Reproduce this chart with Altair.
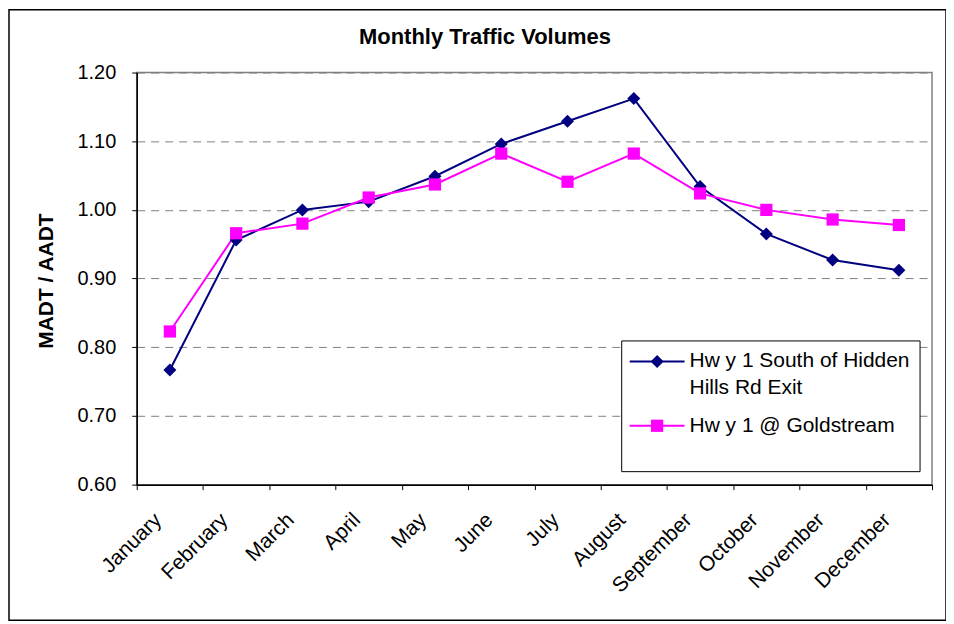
import altair as alt
import pandas as pd

months = ["January", "February", "March", "April", "May", "June", "July",
          "August", "September", "October", "November", "December"]
south = [0.767, 0.956, 1.000, 1.012, 1.049, 1.096, 1.129, 1.162, 1.034, 0.965, 0.927, 0.912]
gold = [0.823, 0.966, 0.980, 1.018, 1.037, 1.082, 1.041, 1.082, 1.024, 1.000, 0.986, 0.978]
series_names = ["Hw y 1 South of Hidden Hills Rd Exit", "Hw y 1 @ Goldstream"]
legend_lines = [["Hw y 1 South of Hidden", "Hills Rd Exit"], ["Hw y 1 @ Goldstream"]]
series_colors = ["#000080", "#FF00FF"]
series_shapes = ["diamond", "square"]
y_ticks = [0.6, 0.7, 0.8, 0.9, 1.0, 1.1, 1.2]
chart_title = "Monthly Traffic Volumes"
y_title = "MADT / AADT"

FONT = "Liberation Sans"
W, H = 797, 413

df = pd.DataFrame({
    "month": months * 2,
    "value": south + gold,
    "series": [series_names[0]] * 12 + [series_names[1]] * 12,
    "order": list(range(12)) * 2,
})
one = pd.DataFrame({"k": [0]})

x_enc = alt.X(
    "month:N", sort=months,
    scale=alt.Scale(type="band", paddingInner=0, paddingOuter=0),
    axis=alt.Axis(title=None, labelAngle=315, labelAlign="right", labelBaseline="middle",
                  labelOffset=-12, labelPadding=27, tickBand="extent", tickSize=5,
                  grid=False, domainColor="black", tickColor="black", domainWidth=1.5,
                  labelFont=FONT, labelFontSize=21, labelColor="black"),
)
y_enc = alt.Y(
    "value:Q",
    scale=alt.Scale(domain=[0.6, 1.2], nice=False, zero=False),
    axis=alt.Axis(values=y_ticks, format=".2f", title=y_title, titleX=-90, titleY=H / 2 + 2,
                  titleAngle=270, titleAlign="center", titleBaseline="middle",
                  titleFont=FONT, titleFontSize=21, titleFontWeight="bold", titleColor="black",
                  labelFont=FONT, labelFontSize=20, labelColor="black", labelPadding=16,
                  tickSize=5, tickColor="black", domainColor="black", domainWidth=1.5,
                  grid=True, gridColor="#808080", gridDash=[8, 6], gridWidth=1),
)
color_enc = alt.Color("series:N", scale=alt.Scale(domain=series_names, range=series_colors), legend=None)

frame = alt.Chart(one).mark_rect(fill=None, stroke="black", strokeWidth=1.5).encode(
    x=alt.value(-128), x2=alt.value(811), y=alt.value(-63), y2=alt.value(549))

title = alt.Chart(one).mark_text(
    text=chart_title, font=FONT, fontSize=22, fontWeight="bold", color="black",
    baseline="middle", align="center"
).encode(x=alt.value(349), y=alt.value(-36))

line = alt.Chart(df).mark_line(strokeWidth=2).encode(x=x_enc, y=y_enc, color=color_enc, order="order:Q")
point_layers = [
    alt.Chart(df).transform_filter(alt.datum.series == name).mark_point(
        shape=shape, filled=True, size=170 if shape == "diamond" else 150, opacity=1
    ).encode(x=x_enc, y=y_enc, color=color_enc)
    for name, shape in zip(series_names, series_shapes)
]

# legend (box, sample line, marker, label per series)
legend_box = alt.Chart(one).mark_rect(fill="white", stroke="black", strokeWidth=1).encode(
    x=alt.value(486), x2=alt.value(785), y=alt.value(269), y2=alt.value(400))
legend_df = pd.DataFrame({"series": series_names})
row_y = [289.5, 354]
text_y = [278, 343]
legend_layers = [legend_box]
for i, name in enumerate(series_names):
    base = alt.Chart(legend_df).transform_filter(alt.datum.series == name)
    legend_layers.append(base.mark_rule(strokeWidth=2).encode(
        x=alt.value(494), x2=alt.value(549), y=alt.value(row_y[i]), color=color_enc))
    legend_layers.append(base.mark_point(
        shape=series_shapes[i], filled=True, size=170 if series_shapes[i] == "diamond" else 150, opacity=1
    ).encode(x=alt.value(521.5), y=alt.value(row_y[i]), color=color_enc))
    legend_layers.append(base.mark_text(
        text=legend_lines[i], font=FONT, fontSize=21, color="black", align="left",
        baseline="top", lineHeight=27
    ).encode(x=alt.value(554), y=alt.value(text_y[i])))

chart = alt.layer(frame, title, line, *point_layers, *legend_layers).properties(
    width=W, height=H,
    autosize=alt.AutoSizeParams(type="none"),
    padding={"left": 129, "top": 64, "right": 14, "bottom": 137},
    background="white",
).configure_view(stroke="#808080", strokeWidth=1.5)

chart.save("out.html", embed_options={"renderer": "svg", "actions": False})
